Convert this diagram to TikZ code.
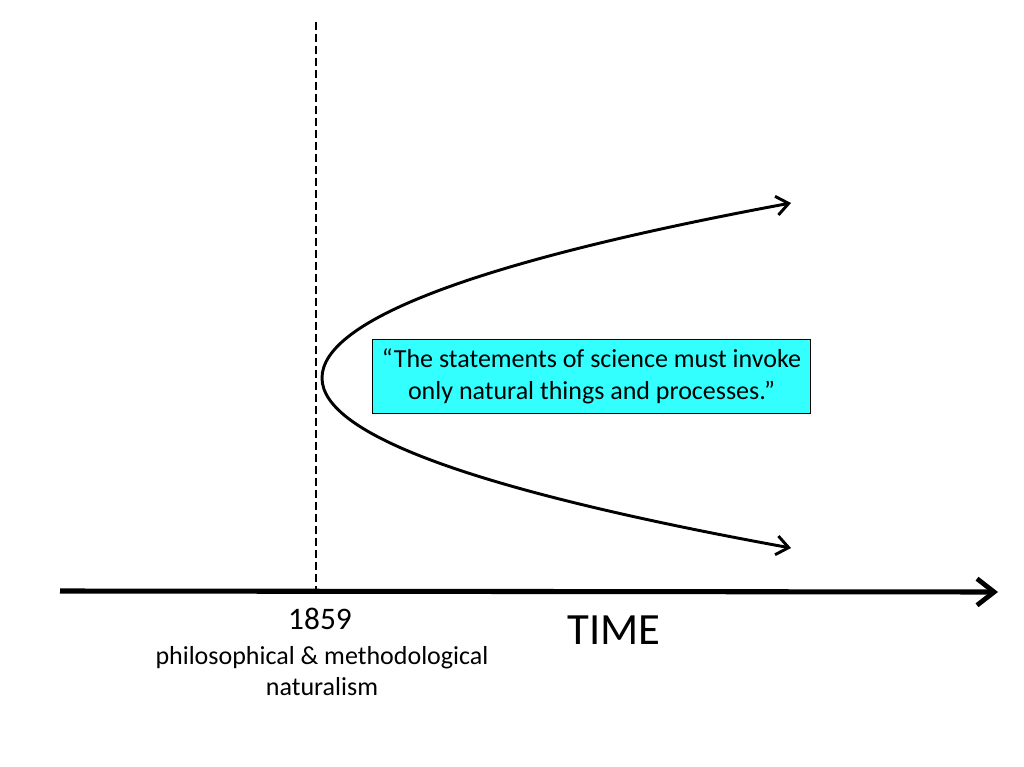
\documentclass[tikz,border=0pt]{standalone}
\usepackage{fontspec}
\setmainfont{Carlito}
\usetikzlibrary{arrows.meta,positioning}
\definecolor{QuoteCyan}{HTML}{33FFFF}
\definecolor{AxisInk}{HTML}{000000}
\tikzset{
  every node/.style={text=AxisInk},
  timeline/.style={-{Straight Barb[length=4.5mm,width=7mm,line width=3.6pt]}, draw=AxisInk, line width=3.8pt},
  era/.style={draw=AxisInk, line width=1.6pt, dash pattern=on 6pt off 3pt},
  branch/.style={-{Straight Barb[length=3.2mm,width=5mm,line width=2.2pt]}, draw=AxisInk, line width=2.2pt},
  quotebox/.style={draw=AxisInk, line width=0.9pt, fill=QuoteCyan, align=center,
    font=\fontsize{19.5}{24}\selectfont, minimum width=329pt, minimum height=55pt, inner sep=0pt},
  caption/.style={align=center, font=\fontsize{19.5}{23.3}\selectfont},
}
\begin{document}
\begin{tikzpicture}[x=0.75pt, y=-0.75pt]
  \useasboundingbox (0,0) rectangle (1024,767);
  % time axis with its arrow
  \coordinate (tstart) at (60,591);
  \coordinate (tend) at (998,592);
  \draw[timeline] (tstart) -- (tend);
  \node[font=\fontsize{33.5}{36}\selectfont] (time) at (614,630) {TIME};
  % 1859 marker
  \coordinate (eratop) at (316,22);
  \coordinate (erafoot) at (316,589);
  \draw[era] (eratop) -- (erafoot);
  \node[font=\fontsize{23.5}{26}\selectfont] (year) at (320,619) {1859};
  \node[caption] (school) at (322,671)
    {philosophical \& methodological\\naturalism};
  % diverging branches
  \coordinate (vertex) at (322,378);
  \coordinate (upper) at (791,203);
  \coordinate (lower) at (791,548);
  \draw[branch] (vertex) .. controls (322,320) and (478,261) .. (upper);
  \draw[branch] (vertex) .. controls (322,435) and (478,491) .. (lower);
  % quotation
  \node[quotebox] (quote) at (591.5,376.5)
    {``The statements of science must invoke\\only natural things and processes.''};
\end{tikzpicture}
\end{document}
